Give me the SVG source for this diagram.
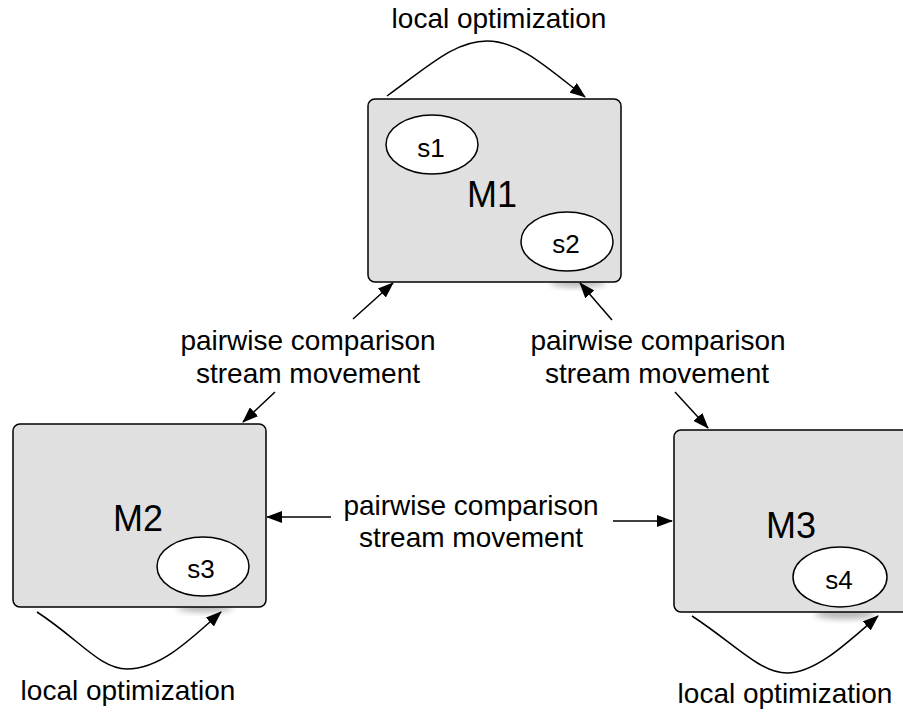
<svg xmlns="http://www.w3.org/2000/svg" width="903" height="713" viewBox="0 0 903 713">
<defs>
<marker id="ah" markerUnits="userSpaceOnUse" markerWidth="16" markerHeight="12" refX="15" refY="6" orient="auto">
<path d="M0,0 L16,6 L0,12 Z" fill="#000"/>
</marker>
<filter id="blur" x="-50%" y="-50%" width="200%" height="200%"><feGaussianBlur stdDeviation="3"/></filter>
</defs>
<style>
.box{fill:#e0e0e0;stroke:#000;stroke-width:1.5}
.st{fill:#fff;stroke:#000;stroke-width:1.5}
.sh{fill:#000;opacity:.3;filter:url(#blur)}
.c{fill:none;stroke:#000;stroke-width:1.5;marker-end:url(#ah)}
.l{fill:none;stroke:#000;stroke-width:1.5}
text{font-family:"Liberation Sans",Arial,Helvetica,sans-serif;fill:#000;text-anchor:middle}
.big{font-size:36px}
.sm{font-size:26px}
.lab{font-size:28px}
</style>
<rect width="903" height="713" fill="#fff"/>
<g id="shadows">
<ellipse class="sh" cx="578" cy="283" rx="28" ry="4"/>
<ellipse class="sh" cx="205" cy="608" rx="28" ry="4"/>
<ellipse class="sh" cx="845" cy="614" rx="30" ry="5"/>
</g>
<g id="M1">
<rect class="box" x="368" y="99" width="253" height="183" rx="7"/>
<text class="big" x="492" y="207">M1</text>
<g id="s1"><ellipse class="st" cx="432" cy="144.5" rx="46" ry="29.5"/><text class="sm" x="431" y="157">s1</text></g>
<g id="s2"><ellipse class="st" cx="567" cy="241.5" rx="46" ry="29.5"/><text class="sm" x="566" y="253">s2</text></g>
</g>
<g id="M2">
<rect class="box" x="13" y="424" width="253" height="183" rx="7"/>
<text class="big" x="138" y="531">M2</text>
<g id="s3"><ellipse class="st" cx="203" cy="566.5" rx="46" ry="29.5"/><text class="sm" x="201" y="578">s3</text></g>
</g>
<g id="M3">
<rect class="box" x="674" y="430" width="253" height="182" rx="7"/>
<text class="big" x="791" y="538">M3</text>
<g id="s4"><ellipse class="st" cx="840" cy="577" rx="47" ry="30"/><text class="sm" x="839" y="589">s4</text></g>
</g>
<g id="connectors">
<path class="c" d="M387,96 C430,65 455,41 487,41 C520,41 550,70 585,97"/>
<path class="c" d="M37,612 C80,640 100,669 127,669 C160,669 190,640 221,612"/>
<path class="c" d="M692,616 C735,644 760,673 787,673 C815,673 845,645 878,616"/>
<path class="c" d="M353,319 L393,283"/>
<path class="c" d="M275,392 L243,422"/>
<path class="c" d="M612,320 L580,283"/>
<path class="c" d="M675,392 L708,428"/>
<path class="c" d="M331,517 L267,517"/>
<path class="c" d="M613,521 L672,521"/>
</g>
<g id="labels">
<text class="lab" x="499" y="28">local optimization</text>
<text class="lab" x="128" y="700">local optimization</text>
<text class="lab" x="785" y="703">local optimization</text>
<text class="lab" x="308" y="350">pairwise comparison</text>
<text class="lab" x="308" y="383">stream movement</text>
<text class="lab" x="658" y="350">pairwise comparison</text>
<text class="lab" x="657" y="383">stream movement</text>
<text class="lab" x="471" y="515">pairwise comparison</text>
<text class="lab" x="471" y="547">stream movement</text>
</g>
</svg>
